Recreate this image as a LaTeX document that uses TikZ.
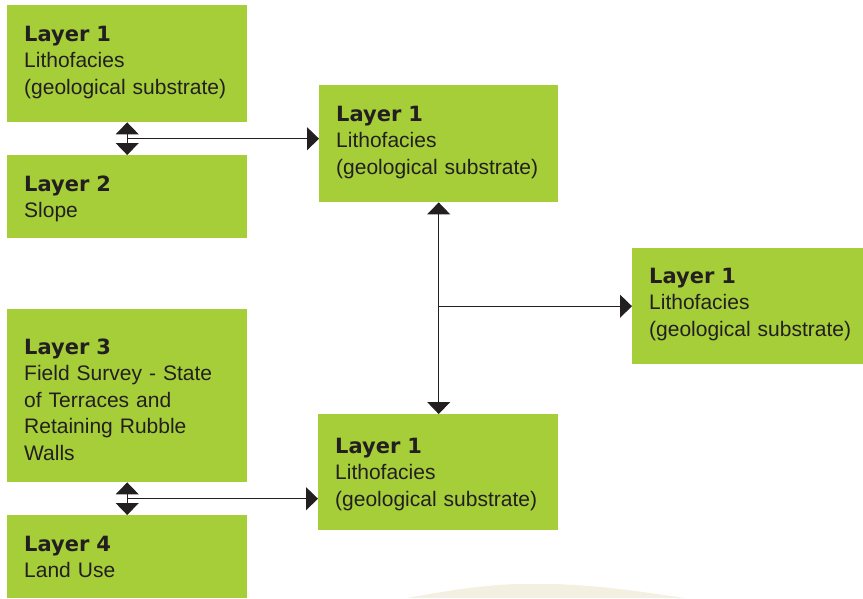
\documentclass[tikz,border=0pt]{standalone}
\usepackage{fontspec}
\setmainfont{Liberation Sans}
\newfontfamily\headfont{DejaVu Sans}
\usetikzlibrary{arrows.meta,calc}
\definecolor{layergreen}{RGB}{166,206,57}
\definecolor{inkdark}{RGB}{35,31,32}
\definecolor{moundcream}{RGB}{243,240,226}

\begin{document}
\begin{tikzpicture}[x=1pt,y=1pt,
    layer/.style={fill=layergreen, inner sep=0pt, anchor=north west},
    txt/.style={anchor=base west, inner sep=0pt, text width=222pt, align=left,
      text=inkdark, font=\fontsize{21}{26.5}\selectfont},
    link/.style={draw=inkdark, line width=0.9pt},
    >={Triangle[width=23pt,length=12pt]}]
    \useasboundingbox (0,0) rectangle (863,-598);
    % faint shape at the bottom
    \fill[moundcream] (407,-598) .. controls (440,-592) and (480,-585) .. (517,-584)
      -- (553,-584) .. controls (600,-585) and (650,-593) .. (685,-598) -- cycle;

    % layers
    \node[layer, minimum width=240pt, minimum height=117pt] (lay1a) at (7,-5) {};
    \node[layer, minimum width=240pt, minimum height=83pt] (lay2) at (7,-155) {};
    \node[layer, minimum width=239pt, minimum height=117pt] (lith1) at (319,-85) {};
    \node[layer, minimum width=231pt, minimum height=116pt] (lith2) at (632,-248) {};
    \node[layer, minimum width=240pt, minimum height=173pt] (lay3) at (7,-309) {};
    \node[layer, minimum width=240pt, minimum height=116pt] (lith3) at (318,-414) {};
    \node[layer, minimum width=240pt, minimum height=83pt] (lay4) at (7,-515) {};

    % texts
    \node[txt] (lay1a-t) at ([shift={(17,-36)}]lay1a.north west)
      {{\headfont\bfseries Layer 1}\\Lithofacies\\(geological substrate)};
    \node[txt] (lay2-t) at ([shift={(17,-36)}]lay2.north west)
      {{\headfont\bfseries Layer 2}\\Slope};
    \node[txt] (lith1-t) at ([shift={(17,-36)}]lith1.north west)
      {{\headfont\bfseries Layer 1}\\Lithofacies\\(geological substrate)};
    \node[txt] (lith2-t) at ([shift={(17,-35)}]lith2.north west)
      {{\headfont\bfseries Layer 1}\\Lithofacies\\(geological substrate)};
    \node[txt] (lay3-t) at ([shift={(17,-45)}]lay3.north west)
      {{\headfont\bfseries Layer 3}\\Field Survey - State\\of Terraces and\\Retaining Rubble\\Walls};
    \node[txt] (lith3-t) at ([shift={(17,-39)}]lith3.north west)
      {{\headfont\bfseries Layer 1}\\Lithofacies\\(geological substrate)};
    \node[txt] (lay4-t) at ([shift={(17,-36)}]lay4.north west)
      {{\headfont\bfseries Layer 4}\\Land Use};

    % connectors
    \draw[link, <->] (lay1a) -- (lay2);
    \coordinate (j1) at ($(lay1a.south)!.5!(lay2.north)$);
    \draw[link, ->] (j1) -- (j1 -| lith1.west);
    \draw[link, <->] (lith1.south) -- (lith1.south |- lith3.north);
    \draw[link, ->] (lith1.south |- lith2.west) -- (lith2.west);
    \draw[link, <->] (lay3) -- (lay4);
    \coordinate (j2) at ($(lay3.south)!.5!(lay4.north)$);
    \draw[link, ->] (j2) -- (j2 -| lith3.west);
\end{tikzpicture}
\end{document}
